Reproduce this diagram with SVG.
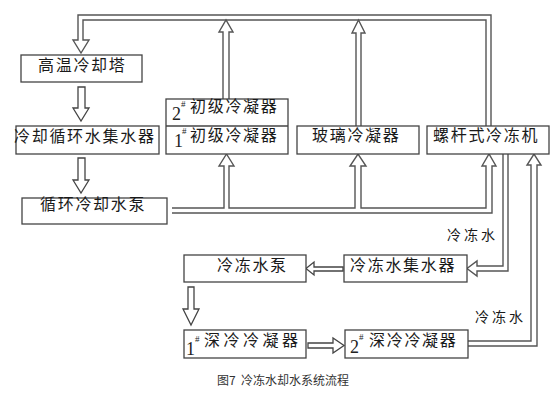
<svg xmlns="http://www.w3.org/2000/svg" width="557" height="396" viewBox="0 0 557 396">
<style>
.box{fill:#fff;stroke:#444;stroke-width:1.3}
.pipe{fill:none;stroke:#555;stroke-width:1.4;stroke-linejoin:miter}
.arr{fill:#fff;stroke:#444;stroke-width:1.3;stroke-linejoin:miter}
.t{font-family:"Noto Sans CJK SC","Noto Sans",sans-serif;font-size:16px;fill:#1a1a1a;letter-spacing:1.7px}
.lbl{font-family:"Noto Sans CJK SC","Noto Sans",sans-serif;font-size:14px;fill:#1a1a1a;letter-spacing:3px}
.num{font-family:"Liberation Serif",serif;font-size:18px;fill:#222}
.sup{font-family:"Liberation Serif",serif;font-size:9px;fill:#222}
.cap{font-family:"Noto Sans CJK SC","Noto Sans",sans-serif;font-size:12px;fill:#333}
</style>
<rect width="557" height="396" fill="#fff"/>
<g id="connectors">
  <path class="pipe" d="M491,126 V15 H78 V40 H73 L81,53 L89,40 H83 V20 H486 V126"/>
  <path class="pipe" d="M223,99 V32 H219 L226,20 L233,32 H229 V99"/>
  <path class="pipe" d="M356,126 V33 H352 L358.5,20 L365,33 H361 V126"/>
  <path class="pipe" d="M172,208 H224 V166 H219 L226.5,154 L234,166 H229 V208 H355 V166 H350 L358,154 L366,166 H361 V208 H486 V166 H482 L489,154 L496,166 H492 V213 H172"/>
  <path class="pipe" d="M503,154 V266 H477 V261 L467,268.5 L477,276 V271 H508 V154"/>
  <path class="pipe" d="M468,341 H531 V165 H527 L534,154 L541,165 H537 V346 H468"/>
  <path class="arr" d="M78,87 V108 H73 L81,121 L89,108 H85 V87 Z"/>
  <path class="arr" d="M78,158 V180 H73 L81,193 L89,180 H85 V158 Z"/>
  <path class="arr" d="M343,267 H314 V262 L306,268.5 L314,275 V271 H343 Z"/>
  <path class="arr" d="M188,287 V309 H183 L191,325 L199,309 H194 V287 Z"/>
  <path class="arr" d="M308,343 H333 V338 L344,345.5 L333,353 V348 H308 Z"/>
</g>
<g id="tower">
  <rect class="box" x="21" y="55" width="121" height="27"/>
  <text class="t" x="38" y="71">高温冷却塔</text>
</g>
<g id="collector">
  <rect class="box" x="16" y="126" width="143" height="28"/>
  <text class="t" x="14" y="142">冷却循环水集水器</text>
</g>
<g id="primary-condensers">
  <rect class="box" x="166" y="99" width="122" height="55"/>
  <line x1="166" y1="126" x2="288" y2="126" stroke="#444" stroke-width="1.3"/>
  <text class="num" x="172" y="120">2</text>
  <text class="sup" x="181" y="107">#</text>
  <text class="t" x="190" y="112">初级冷凝器</text>
  <text class="num" x="174" y="147">1</text>
  <text class="sup" x="182" y="134">#</text>
  <text class="t" x="190" y="141">初级冷凝器</text>
</g>
<g id="glass-condenser">
  <rect class="box" x="297" y="126" width="122" height="28"/>
  <text class="t" x="312" y="141">玻璃冷凝器</text>
</g>
<g id="chiller">
  <rect class="box" x="427" y="126" width="122" height="28"/>
  <text class="t" x="433" y="141">螺杆式冷冻机</text>
</g>
<g id="cooling-pump">
  <rect class="box" x="22" y="198" width="145" height="26"/>
  <text class="t" x="40" y="210">循环冷却水泵</text>
</g>
<g id="chilled-pump">
  <rect class="box" x="184" y="255" width="122" height="27"/>
  <text class="t" x="217" y="271">冷冻水泵</text>
</g>
<g id="chilled-collector">
  <rect class="box" x="344" y="255" width="123" height="27"/>
  <text class="t" x="350" y="271">冷冻水集水器</text>
</g>
<g id="deep-condenser-1">
  <rect class="box" x="184" y="330" width="122" height="28"/>
  <text class="num" x="186" y="355">1</text>
  <text class="sup" x="195" y="342">#</text>
  <text class="t" x="204" y="346" style="letter-spacing:3.5px">深冷冷凝器</text>
</g>
<g id="deep-condenser-2">
  <rect class="box" x="345" y="330" width="123" height="28"/>
  <text class="num" x="350" y="353">2</text>
  <text class="sup" x="359" y="340">#</text>
  <text class="t" x="369" y="346">深冷冷凝器</text>
</g>
<g id="labels">
  <text class="lbl" x="447" y="240">冷冻水</text>
  <text class="lbl" x="475" y="322">冷冻水</text>
  <text class="cap" x="217" y="385">图7<tspan x="241">冷冻水却水系统流程</tspan></text>
</g>
</svg>
